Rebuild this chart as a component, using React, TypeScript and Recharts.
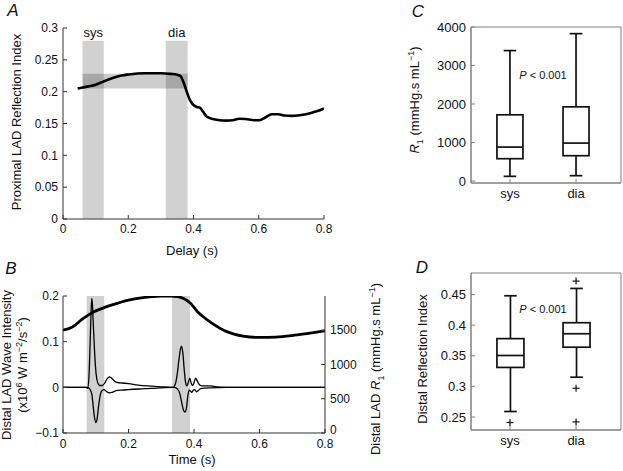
import React from 'react';
import {
  ComposedChart, LineChart, Line, XAxis, YAxis, ReferenceArea, Bar, Scatter,
} from 'recharts';

// ---------- Panel A: proximal LAD reflection index vs delay ----------
const delayA = [0.045, 0.06, 0.08, 0.10, 0.12, 0.15, 0.18, 0.20, 0.25, 0.30, 0.33, 0.35, 0.36, 0.37, 0.38, 0.39, 0.40, 0.41, 0.42, 0.43, 0.44, 0.46, 0.48, 0.50, 0.52, 0.54, 0.56, 0.58, 0.60, 0.62, 0.64, 0.66, 0.68, 0.70, 0.72, 0.74, 0.76, 0.78, 0.80];
const reflA = [0.205, 0.2065, 0.2085, 0.211, 0.215, 0.221, 0.2255, 0.227, 0.229, 0.229, 0.228, 0.2265, 0.2245, 0.214, 0.199, 0.186, 0.179, 0.176, 0.1745, 0.168, 0.161, 0.157, 0.155, 0.1545, 0.155, 0.1575, 0.157, 0.1555, 0.155, 0.1595, 0.1645, 0.1645, 0.1625, 0.162, 0.1625, 0.164, 0.1665, 0.1695, 0.1735];
const bandSysA = [0.06, 0.125];
const bandDiaA = [0.315, 0.382];
const bandTopA = 0.28;
const rangeA = [0.205, 0.228];
const ticksA_x = [0, 0.2, 0.4, 0.6, 0.8];
const ticksA_y = [0, 0.05, 0.1, 0.15, 0.2, 0.25, 0.3];

// ---------- Panel B: wave intensity and R1 vs time ----------
const timeR1 = [0, 0.03, 0.06, 0.09, 0.12, 0.15, 0.2, 0.25, 0.3, 0.33, 0.35, 0.37, 0.39, 0.41, 0.43, 0.45, 0.5, 0.55, 0.6, 0.65, 0.7, 0.75, 0.8];
const valR1 = [1500, 1550, 1665, 1760, 1820, 1870, 1940, 1980, 1997, 2000, 1990, 1960, 1890, 1775, 1690, 1620, 1480, 1415, 1395, 1400, 1422, 1455, 1490];

const timeFwd = [0, 0.07, 0.075, 0.079, 0.083, 0.086, 0.088, 0.09, 0.093, 0.097, 0.101, 0.106, 0.112, 0.12, 0.128, 0.135, 0.142, 0.15, 0.16, 0.17, 0.18, 0.2, 0.23, 0.26, 0.3, 0.335, 0.342, 0.348, 0.354, 0.359, 0.362, 0.366, 0.37, 0.374, 0.378, 0.383, 0.387, 0.391, 0.395, 0.4, 0.405, 0.41, 0.416, 0.425, 0.45, 0.47, 0.5, 0.8];
const valFwd = [0, 0, -0.002, 0.02, 0.1, 0.17, 0.195, 0.18, 0.13, 0.07, 0.03, 0.01, 0.004, 0.004, 0.01, 0.019, 0.023, 0.019, 0.012, 0.01, 0.0095, 0.008, 0.005, 0.003, 0.001, 0, 0.005, 0.025, 0.06, 0.085, 0.09, 0.075, 0.04, 0.012, 0.003, 0.012, 0.02, 0.01, 0.004, 0.01, 0.02, 0.014, 0.006, 0.003, 0.003, 0.001, 0, 0];

const timeBwd = [0, 0.075, 0.082, 0.088, 0.092, 0.096, 0.1, 0.104, 0.108, 0.113, 0.118, 0.125, 0.133, 0.14, 0.15, 0.16, 0.18, 0.2, 0.25, 0.3, 0.34, 0.35, 0.357, 0.363, 0.368, 0.373, 0.377, 0.381, 0.385, 0.389, 0.393, 0.398, 0.403, 0.408, 0.413, 0.42, 0.45, 0.5, 0.8];
const valBwd = [0, 0, -0.004, -0.015, -0.04, -0.065, -0.077, -0.07, -0.045, -0.02, -0.008, -0.005, -0.009, -0.012, -0.011, -0.008, -0.006, -0.005, -0.003, -0.001, 0, -0.004, -0.015, -0.035, -0.05, -0.054, -0.045, -0.02, -0.006, -0.008, -0.011, -0.006, -0.005, -0.01, -0.007, -0.003, -0.001, 0, 0];

const bandSysB = [0.072, 0.126];
const bandDiaB = [0.333, 0.388];
const ticksB_x = [0, 0.2, 0.4, 0.6, 0.8];
const ticksB_left = [-0.1, 0, 0.1, 0.2];
const ticksB_right = [0, 500, 1000, 1500];

// ---------- Panels C and D: box plots ----------
const phases = ['sys', 'dia'];
const r1Low = [121, 138];
const r1Q1 = [579, 657];
const r1Med = [881, 985];
const r1Q3 = [1719, 1926];
const r1High = [3387, 3827];
const ticksC_y = [0, 1000, 2000, 3000, 4000];

const driLow = [0.259, 0.315];
const driQ1 = [0.331, 0.364];
const driMed = [0.3505, 0.386];
const driQ3 = [0.378, 0.404];
const driHigh = [0.448, 0.46];
const driOutlierPhase = [1, 2, 2, 2];
const driOutlierValue = [0.241, 0.472, 0.297, 0.242];
const ticksD_y = [0.25, 0.3, 0.35, 0.4, 0.45];

const FONT = '"Liberation Sans", Arial, Helvetica, sans-serif';

const dataA = delayA.map((x, i) => ({ x, y: reflA[i] }));
const dataR1 = timeR1.map((x, i) => ({ x, r: valR1[i] }));
const dataFwd = timeFwd.map((x, i) => ({ x, w: valFwd[i] }));
const dataBwd = timeBwd.map((x, i) => ({ x, w: valBwd[i] }));

const boxData = (low: number[], q1: number[], med: number[], q3: number[], high: number[]) =>
  phases.map((p, i) => ({ pos: i + 1, range: [low[i], high[i]], low: low[i], q1: q1[i], med: med[i], q3: q3[i], high: high[i] }));

const dataC = boxData(r1Low, r1Q1, r1Med, r1Q3, r1High);
const dataD = boxData(driLow, driQ1, driMed, driQ3, driHigh);
const outD = driOutlierPhase.map((p, i) => ({ pos: p, v: driOutlierValue[i] }));

const BoxShape = (props: any) => {
  const { x, y, width, height, payload } = props;
  if (x == null || y == null) return null;
  const top = Math.min(y, y + height);
  const h = Math.abs(height);
  const { low, high, q1, med, q3 } = payload;
  const py = (v: number) => top + (h * (high - v)) / (high - low);
  const cx = x + width / 2;
  const cap = 6.3;
  const sw = 1.7;
  return (
    <g stroke="#111" strokeWidth={sw} fill="none">
      <line x1={cx} x2={cx} y1={py(high)} y2={py(q3)} />
      <line x1={cx} x2={cx} y1={py(q1)} y2={py(low)} />
      <line x1={cx - cap} x2={cx + cap} y1={py(high)} y2={py(high)} />
      <line x1={cx - cap} x2={cx + cap} y1={py(low)} y2={py(low)} />
      <rect x={x} y={py(q3)} width={width} height={py(q1) - py(q3)} fill="#fff" />
      <line x1={x} x2={x + width} y1={py(med)} y2={py(med)} />
    </g>
  );
};

const PlusShape = (props: any) => {
  const { cx, cy } = props;
  if (cx == null || cy == null) return null;
  return (
    <g stroke="#111" strokeWidth={1.2}>
      <line x1={cx - 3.5} x2={cx + 3.5} y1={cy} y2={cy} />
      <line x1={cx} x2={cx} y1={cy - 3.5} y2={cy + 3.5} />
    </g>
  );
};

// Right-axis tick of panel B: the bottom "0" sits slightly raised, clear of the x tick "0.8"
const RightTickB = (props: any) => {
  const { x, y, payload } = props;
  const raise = payload.value === 0 ? 3 : 0;
  return (
    <text x={x} y={y - raise} dy="0.35em" textAnchor="start" fontSize={12} fill="#111">
      {String(payload.value)}
    </text>
  );
};

const VLabel = ({ x, y, children, size = 13 }: any) => (
  <div
    style={{
      position: 'absolute', left: x, top: y, transform: 'translate(-50%, -50%) rotate(-90deg)',
      whiteSpace: 'nowrap', fontSize: size, lineHeight: '16px', textAlign: 'center', color: '#111',
    }}
  >
    {children}
  </div>
);

const HLabel = ({ x, y, children, size = 13, italic = false }: any) => (
  <div
    style={{
      position: 'absolute', left: x, top: y, transform: 'translate(-50%, -50%)',
      whiteSpace: 'nowrap', fontSize: size, lineHeight: 1, color: '#111', fontStyle: italic ? 'italic' : 'normal',
    }}
  >
    {children}
  </div>
);

const tickStyle = { fontSize: 12, fill: '#111' };
const tickStyle13 = { fontSize: 13, fill: '#111' };
const axisDark = { stroke: '#333', strokeWidth: 1 };
const axisGrey = { stroke: '#808080', strokeWidth: 1 };

export default function App() {
  return (
    <div style={{ position: 'absolute', left: 0, top: 0, width: 623, height: 471, background: '#fff', fontFamily: FONT, overflow: 'hidden' }}>
      {/* Panel A */}
      <div style={{ position: 'absolute', left: 0, top: 0 }}>
        <LineChart width={340} height={262} data={dataA} margin={{ top: 28, right: 16, left: 13, bottom: 13 }}>
          <XAxis dataKey="x" type="number" domain={[0, 0.8]} ticks={ticksA_x} tickFormatter={(v: number) => String(v)}
            axisLine={axisDark} tickLine={axisDark} tickSize={-4} tickMargin={9} tick={tickStyle} height={30} allowDataOverflow />
          <YAxis type="number" domain={[0, 0.3]} ticks={ticksA_y} tickFormatter={(v: number) => String(v)}
            axisLine={axisDark} tickLine={axisDark} tickSize={-4} tickMargin={9} tick={tickStyle} width={50} allowDataOverflow />
          <ReferenceArea x1={bandSysA[0]} x2={bandSysA[1]} y1={0} y2={bandTopA} fill="#000" fillOpacity={0.18} stroke="none"
            label={{ value: 'sys', position: 'top', offset: 4, fontSize: 13, fill: '#111' }} />
          <ReferenceArea x1={bandDiaA[0]} x2={bandDiaA[1]} y1={0} y2={bandTopA} fill="#000" fillOpacity={0.18} stroke="none"
            label={{ value: 'dia', position: 'top', offset: 4, fontSize: 13, fill: '#111' }} />
          <ReferenceArea x1={bandSysA[0]} x2={bandDiaA[1]} y1={rangeA[0]} y2={rangeA[1]} fill="#000" fillOpacity={0.2} stroke="none" />
          <Line dataKey="y" type="monotone" stroke="#000" strokeWidth={2.6} dot={false} isAnimationActive={false} />
        </LineChart>
      </div>

      {/* Panel B */}
      <div style={{ position: 'absolute', left: 0, top: 230 }}>
        <ComposedChart width={420} height={241} margin={{ top: 66, right: 45, left: 13, bottom: 8 }}>
          <XAxis dataKey="x" type="number" domain={[0, 0.8]} ticks={ticksB_x} tickFormatter={(v: number) => String(v)}
            axisLine={axisDark} tickLine={axisDark} tickSize={-4} tickMargin={10} tick={tickStyle} height={30} allowDataOverflow />
          <YAxis yAxisId="left" type="number" domain={[-0.1, 0.2]} ticks={ticksB_left}
            tickFormatter={(v: number) => (v < 0 ? '\u2212' + String(Math.abs(v)) : String(v))}
            axisLine={axisDark} tickLine={axisDark} tickSize={-4} tickMargin={8} tick={tickStyle} width={50} allowDataOverflow />
          <YAxis yAxisId="right" orientation="right" type="number" domain={[0, 2000]} ticks={ticksB_right}
            axisLine={axisDark} tickLine={axisDark} tickSize={-4} tickMargin={9} tick={<RightTickB />} width={50} allowDataOverflow />
          <ReferenceArea yAxisId="left" x1={bandSysB[0]} x2={bandSysB[1]} y1={-0.1} y2={0.2} fill="#000" fillOpacity={0.18} stroke="none" />
          <ReferenceArea yAxisId="left" x1={bandDiaB[0]} x2={bandDiaB[1]} y1={-0.1} y2={0.2} fill="#000" fillOpacity={0.18} stroke="none" />
          <Line yAxisId="left" data={dataFwd} dataKey="w" type="monotone" stroke="#000" strokeWidth={1.3} dot={false} isAnimationActive={false} />
          <Line yAxisId="left" data={dataBwd} dataKey="w" type="monotone" stroke="#000" strokeWidth={1.3} dot={false} isAnimationActive={false} />
          <Line yAxisId="right" data={dataR1} dataKey="r" type="monotone" stroke="#000" strokeWidth={2.8} dot={false} isAnimationActive={false} />
        </ComposedChart>
      </div>

      {/* Panel C */}
      <div style={{ position: 'absolute', left: 380, top: 0 }}>
        <ComposedChart width={243} height={230} data={dataC} margin={{ top: 27, right: 2, left: 41, bottom: 17 }}>
          <XAxis dataKey="pos" type="number" domain={[0.41, 2.68]} ticks={[1, 2]} tickFormatter={(v: number) => phases[v - 1]}
            axisLine={axisGrey} tickLine={axisGrey} tickSize={-4} tickMargin={10} tick={tickStyle13} height={30} allowDataOverflow />
          <YAxis type="number" domain={[-52, 4000]} ticks={ticksC_y}
            axisLine={axisGrey} tickLine={axisGrey} tickSize={-4} tickMargin={9} tick={tickStyle13} width={50} allowDataOverflow />
          <ReferenceArea x1={0.41} x2={2.68} y1={-52} y2={4000} fill="none" stroke="#808080" strokeWidth={1} ifOverflow="visible" />
          <Bar dataKey="range" barSize={26} shape={BoxShape} isAnimationActive={false} />
        </ComposedChart>
      </div>

      {/* Panel D */}
      <div style={{ position: 'absolute', left: 380, top: 230 }}>
        <ComposedChart width={243} height={241} data={dataD} margin={{ top: 43, right: 2, left: 41, bottom: 11 }}>
          <XAxis dataKey="pos" type="number" domain={[0.41, 2.68]} ticks={[1, 2]} tickFormatter={(v: number) => phases[v - 1]}
            axisLine={axisGrey} tickLine={axisGrey} tickSize={-4} tickMargin={10} tick={tickStyle13} height={30} allowDataOverflow />
          <YAxis type="number" domain={[0.2288, 0.4852]} ticks={ticksD_y} tickFormatter={(v: number) => String(v)}
            axisLine={axisGrey} tickLine={axisGrey} tickSize={-4} tickMargin={9} tick={tickStyle13} width={50} allowDataOverflow />
          <ReferenceArea x1={0.41} x2={2.68} y1={0.2288} y2={0.4852} fill="none" stroke="#808080" strokeWidth={1} ifOverflow="visible" />
          <Bar dataKey="range" barSize={27} shape={BoxShape} isAnimationActive={false} />
          <Scatter data={outD} dataKey="v" shape={PlusShape} isAnimationActive={false} />
        </ComposedChart>
      </div>

      {/* Axis titles and annotations */}
      <HLabel x={13} y={10} size={17} italic>A</HLabel>
      <HLabel x={11} y={268} size={17} italic>B</HLabel>
      <HLabel x={418} y={11} size={17} italic>C</HLabel>
      <HLabel x={422} y={267} size={17} italic>D</HLabel>

      <VLabel x={17} y={122}>Proximal LAD Reflection Index</VLabel>
      <HLabel x={192} y={250}>Delay (s)</HLabel>

      <VLabel x={15} y={365}>
        <div>Distal LAD Wave Intensity</div>
        <div>(x10<sup style={{ fontSize: 9, lineHeight: 0 }}>6</sup> W m<sup style={{ fontSize: 9, lineHeight: 0 }}>{'\u2212'}2</sup>/s<sup style={{ fontSize: 9, lineHeight: 0 }}>{'\u2212'}2</sup>)</div>
      </VLabel>
      <HLabel x={192} y={459}>Time (s)</HLabel>
      <VLabel x={376} y={369}>
        Distal LAD <i>R</i><sub style={{ fontSize: 9, lineHeight: 0 }}>1</sub> (mmHg.s mL<sup style={{ fontSize: 9, lineHeight: 0 }}>{'\u2212'}1</sup>)
      </VLabel>

      <VLabel x={415} y={100}>
        <i>R</i><sub style={{ fontSize: 9, lineHeight: 0 }}>1</sub> (mmHg.s mL<sup style={{ fontSize: 9, lineHeight: 0 }}>{'\u2212'}1</sup>)
      </VLabel>
      <HLabel x={543} y={75} size={11}><i>P</i> &lt; 0.001</HLabel>

      <VLabel x={423} y={359}>Distal Reflection Index</VLabel>
      <HLabel x={543} y={309} size={11}><i>P</i> &lt; 0.001</HLabel>
    </div>
  );
}
